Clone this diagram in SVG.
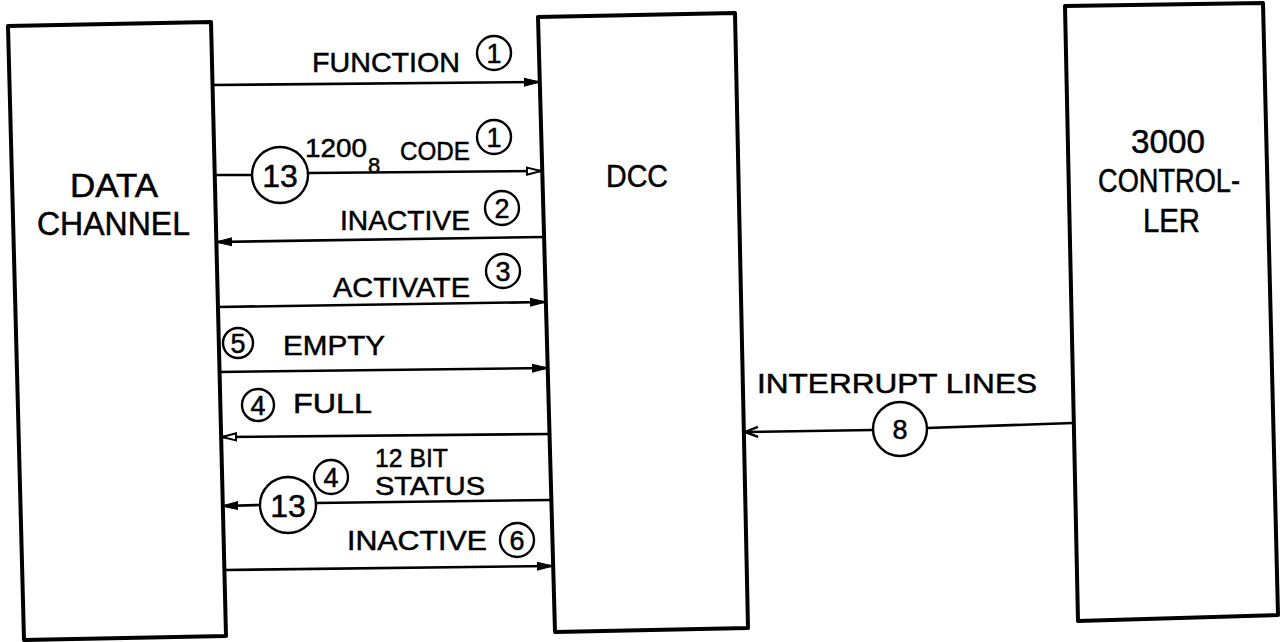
<svg xmlns="http://www.w3.org/2000/svg" width="1281" height="642" viewBox="0 0 1281 642">
<style>
.box{fill:none;stroke:#000;stroke-width:4;stroke-linejoin:round}
.ln{fill:none;stroke:#000;stroke-width:2.6}
.cir{fill:#fff;stroke:#000;stroke-width:2.4}
text{font-family:"Liberation Sans",Arial,sans-serif;fill:#000;stroke:#000;stroke-width:0.5}
.big{font-size:33px}
.lbl{font-size:28px}
.num{font-size:27px;text-anchor:middle}
.num2{font-size:32px;text-anchor:middle}
</style>
<defs>
<marker id="af" markerUnits="userSpaceOnUse" markerWidth="18" markerHeight="12" refX="16" refY="5" orient="auto" viewBox="0 0 18 10">
<path d="M0,1 L16,5 L0,9 Z" fill="#000" stroke="#000" stroke-width="1"/>
</marker>
<marker id="ao" markerUnits="userSpaceOnUse" markerWidth="18" markerHeight="12" refX="15" refY="5" orient="auto" viewBox="0 0 18 10">
<path d="M1,1.5 L15,5 L1,8.5 Z" fill="#fff" stroke="#000" stroke-width="2"/>
</marker>
<marker id="ac" markerUnits="userSpaceOnUse" markerWidth="18" markerHeight="14" refX="15" refY="6" orient="auto" viewBox="0 0 18 12">
<path d="M2,1 L15,6 L2,11" fill="none" stroke="#000" stroke-width="2.4"/>
</marker>
</defs>

<g id="data-channel">
<polygon class="box" points="8,26 211,22 226,636 24,640"/>
<text class="big" x="70" y="197" textLength="88" lengthAdjust="spacingAndGlyphs">DATA</text>
<text class="big" x="37" y="235" textLength="153" lengthAdjust="spacingAndGlyphs">CHANNEL</text>
</g>

<g id="dcc">
<polygon class="box" points="538,17 735,13 748,628 555,632"/>
<text class="big" x="606" y="187" textLength="62" lengthAdjust="spacingAndGlyphs" style="font-size:31px">DCC</text>
</g>

<g id="controller">
<polygon class="box" points="1065,6 1263,3 1278,615 1078,621"/>
<text class="big" x="1131" y="153" textLength="74" lengthAdjust="spacingAndGlyphs">3000</text>
<text class="big" x="1098" y="192" textLength="142" lengthAdjust="spacingAndGlyphs">CONTROL-</text>
<text class="big" x="1143" y="232" textLength="57" lengthAdjust="spacingAndGlyphs">LER</text>
</g>

<g id="connectors">
<line class="ln" x1="212" y1="85" x2="540" y2="82" marker-end="url(#af)"/>
<line class="ln" x1="213" y1="175" x2="252" y2="175"/>
<line class="ln" x1="308" y1="173" x2="541" y2="171" marker-end="url(#ao)"/>
<line class="ln" x1="544" y1="237" x2="216" y2="242" marker-end="url(#af)"/>
<line class="ln" x1="217" y1="307" x2="546" y2="302" marker-end="url(#af)"/>
<line class="ln" x1="218" y1="372" x2="548" y2="368" marker-end="url(#af)"/>
<line class="ln" x1="550" y1="434" x2="222" y2="437" marker-end="url(#ao)"/>
<line class="ln" x1="551" y1="500" x2="316" y2="503"/>
<line class="ln" x1="260" y1="505" x2="222" y2="506" marker-end="url(#af)"/>
<line class="ln" x1="225" y1="570" x2="553" y2="566" marker-end="url(#af)"/>
<line class="ln" x1="1073" y1="423" x2="927" y2="428"/>
<line class="ln" x1="873" y1="430" x2="745" y2="432" marker-end="url(#ac)"/>
</g>

<g id="label-function">
<text class="lbl" x="312" y="72" textLength="148" lengthAdjust="spacingAndGlyphs">FUNCTION</text>
<circle class="cir" cx="494" cy="53" r="17"/>
<text class="num" x="494" y="63">1</text>
</g>

<g id="label-code">
<circle class="cir" cx="280" cy="175" r="28"/>
<text class="num2" x="280" y="187">13</text>
<text style="font-size:26px" x="305" y="157" textLength="62" lengthAdjust="spacingAndGlyphs">1200</text>
<text style="font-size:22px" x="368" y="173">8</text>
<text style="font-size:26px" x="400" y="160" textLength="70" lengthAdjust="spacingAndGlyphs">CODE</text>
<circle class="cir" cx="494" cy="137" r="17"/>
<text class="num" x="494" y="147">1</text>
</g>

<g id="label-inactive2">
<text class="lbl" x="340" y="230" textLength="130" lengthAdjust="spacingAndGlyphs">INACTIVE</text>
<circle class="cir" cx="502" cy="208" r="17"/>
<text class="num" x="502" y="218">2</text>
</g>

<g id="label-activate">
<text class="lbl" x="333" y="297" textLength="137" lengthAdjust="spacingAndGlyphs">ACTIVATE</text>
<circle class="cir" cx="503" cy="271" r="17"/>
<text class="num" x="503" y="281">3</text>
</g>

<g id="label-empty">
<circle class="cir" cx="238" cy="343" r="15"/>
<text class="num" x="238" y="353">5</text>
<text class="lbl" x="283" y="355" textLength="102" lengthAdjust="spacingAndGlyphs">EMPTY</text>
</g>

<g id="label-full">
<circle class="cir" cx="258" cy="405" r="16"/>
<text class="num" x="258" y="415">4</text>
<text class="lbl" x="293" y="413" textLength="79" lengthAdjust="spacingAndGlyphs">FULL</text>
</g>

<g id="label-status">
<circle class="cir" cx="331" cy="477" r="17"/>
<text class="num" x="331" y="487">4</text>
<text style="font-size:25px" x="375" y="467" textLength="73" lengthAdjust="spacingAndGlyphs">12 BIT</text>
<text style="font-size:26px" x="375" y="495" textLength="110" lengthAdjust="spacingAndGlyphs">STATUS</text>
<circle class="cir" cx="288" cy="505" r="28"/>
<text class="num2" x="288" y="517">13</text>
</g>

<g id="label-inactive6">
<text class="lbl" x="347" y="550" textLength="140" lengthAdjust="spacingAndGlyphs">INACTIVE</text>
<circle class="cir" cx="517" cy="540" r="17"/>
<text class="num" x="517" y="550">6</text>
</g>

<g id="label-interrupt">
<text class="lbl" x="757" y="393" textLength="280" lengthAdjust="spacingAndGlyphs">INTERRUPT LINES</text>
<circle class="cir" cx="900" cy="429" r="27"/>
<text class="num" x="900" y="439">8</text>
</g>
</svg>
